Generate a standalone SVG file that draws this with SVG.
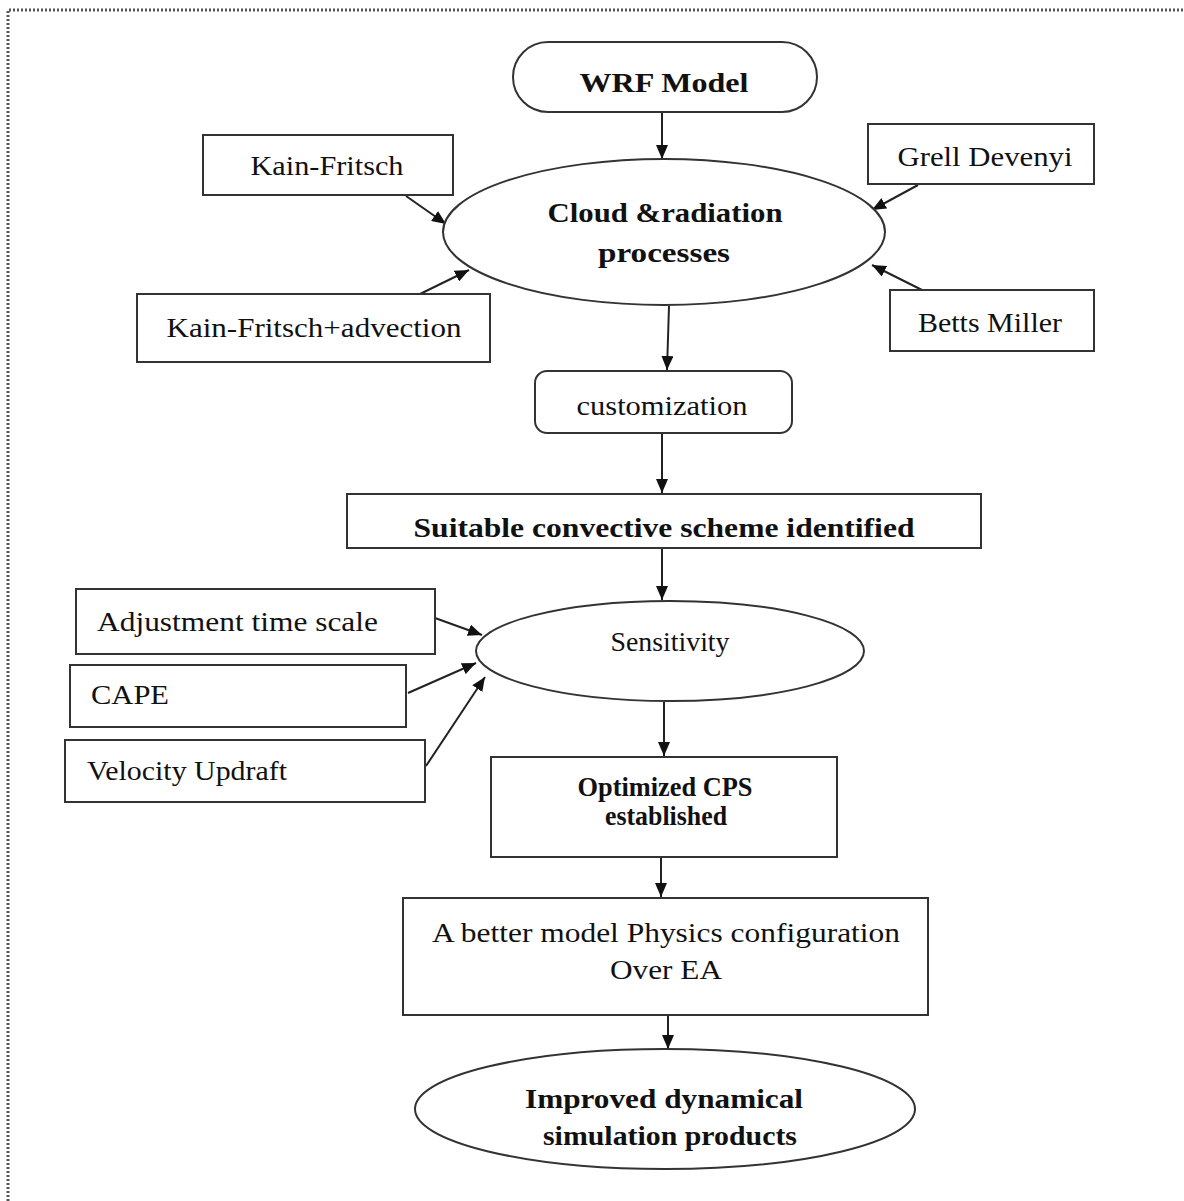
<svg xmlns="http://www.w3.org/2000/svg" width="1184" height="1201" viewBox="0 0 1184 1201">
<style>
.box{fill:#fff;stroke:#333;stroke-width:2}
.t{font-family:"Liberation Serif","Times New Roman",serif;font-size:28px;fill:#111;text-anchor:middle}
.b{font-weight:bold}
.ts{text-anchor:start}
.c{stroke:#222;stroke-width:2;fill:none;marker-end:url(#ah)}
.frame{stroke:#555;stroke-width:3;stroke-dasharray:2 2;fill:none}
</style>
<defs>
<marker id="ah" viewBox="0 0 14 12" refX="14" refY="6" markerWidth="14" markerHeight="12" markerUnits="userSpaceOnUse" orient="auto">
<path d="M0,0 L14,6 L0,12 Z" fill="#111"/>
</marker>
</defs>
<rect width="1184" height="1201" fill="#fff"/>
<path class="frame" d="M8,1201 V10 H1184"/>

<g id="connectors">
<line class="c" x1="662" y1="112" x2="662" y2="159"/>
<line class="c" x1="406" y1="196" x2="446" y2="224"/>
<line class="c" x1="418" y1="295" x2="469" y2="270"/>
<line class="c" x1="918" y1="185" x2="872" y2="210"/>
<line class="c" x1="922" y1="290" x2="872" y2="265"/>
<line class="c" x1="669" y1="306" x2="667" y2="370"/>
<line class="c" x1="662" y1="433" x2="662" y2="493"/>
<line class="c" x1="662" y1="548" x2="662" y2="600"/>
<line class="c" x1="435" y1="618" x2="482" y2="635"/>
<line class="c" x1="408" y1="693" x2="476" y2="663"/>
<line class="c" x1="426" y1="766" x2="485" y2="677"/>
<line class="c" x1="664" y1="702" x2="664" y2="756"/>
<line class="c" x1="661" y1="857" x2="661" y2="897"/>
<line class="c" x1="668" y1="1015" x2="668" y2="1049"/>
</g>

<g id="wrf">
<rect class="box" x="513" y="42" width="304" height="70" rx="35"/>
<text class="t b" x="664" y="92" font-size="29" textLength="169" lengthAdjust="spacingAndGlyphs">WRF Model</text>
</g>
<g id="cloud">
<ellipse class="box" cx="664" cy="232" rx="221" ry="73"/>
<text class="t b" x="665" y="222" textLength="235" lengthAdjust="spacingAndGlyphs">Cloud  &amp;radiation</text>
<text class="t b" x="664" y="262" textLength="132" lengthAdjust="spacingAndGlyphs">processes</text>
</g>
<g id="kf">
<rect class="box" x="203" y="135" width="250" height="60"/>
<text class="t" x="327" y="175" textLength="153" lengthAdjust="spacingAndGlyphs">Kain-Fritsch</text>
</g>
<g id="kfa">
<rect class="box" x="137" y="294" width="353" height="68"/>
<text class="t" x="314" y="337" textLength="295" lengthAdjust="spacingAndGlyphs">Kain-Fritsch+advection</text>
</g>
<g id="gd">
<rect class="box" x="868" y="124" width="226" height="60"/>
<text class="t" x="985" y="166" textLength="175" lengthAdjust="spacingAndGlyphs">Grell  Devenyi</text>
</g>
<g id="bm">
<rect class="box" x="890" y="290" width="204" height="61"/>
<text class="t" x="990" y="332" textLength="144" lengthAdjust="spacingAndGlyphs">Betts  Miller</text>
</g>
<g id="cust">
<rect class="box" x="535" y="371" width="257" height="62" rx="12"/>
<text class="t" x="662" y="415" textLength="171" lengthAdjust="spacingAndGlyphs">customization</text>
</g>
<g id="suit">
<rect class="box" x="347" y="494" width="634" height="54"/>
<text class="t b" x="664" y="537" font-size="27" textLength="501" lengthAdjust="spacingAndGlyphs">Suitable  convective scheme identified</text>
</g>
<g id="sens">
<ellipse class="box" cx="670" cy="651" rx="194" ry="50"/>
<text class="t" x="670" y="651" textLength="119" lengthAdjust="spacingAndGlyphs">Sensitivity</text>
</g>
<g id="adj">
<rect class="box" x="76" y="589" width="359" height="65"/>
<text class="t ts" x="97" y="631" textLength="281" lengthAdjust="spacingAndGlyphs">Adjustment  time  scale</text>
</g>
<g id="cape">
<rect class="box" x="70" y="665" width="336" height="62"/>
<text class="t ts" x="91" y="704" textLength="78" lengthAdjust="spacingAndGlyphs">CAPE</text>
</g>
<g id="vel">
<rect class="box" x="65" y="740" width="360" height="62"/>
<text class="t ts" x="87" y="780" textLength="200" lengthAdjust="spacingAndGlyphs">Velocity Updraft</text>
</g>
<g id="opt">
<rect class="box" x="491" y="757" width="346" height="100"/>
<text class="t b" x="665" y="796" font-size="22" textLength="175" lengthAdjust="spacingAndGlyphs">Optimized  CPS</text>
<text class="t b" x="666" y="825" font-size="22" textLength="122" lengthAdjust="spacingAndGlyphs">established</text>
</g>
<g id="better">
<rect class="box" x="403" y="898" width="525" height="117"/>
<text class="t" x="666" y="942" textLength="468" lengthAdjust="spacingAndGlyphs">A better model Physics  configuration</text>
<text class="t" x="666" y="979" textLength="112" lengthAdjust="spacingAndGlyphs">Over EA</text>
</g>
<g id="improved">
<ellipse class="box" cx="665" cy="1109" rx="250" ry="60"/>
<text class="t b" x="664" y="1108" textLength="278" lengthAdjust="spacingAndGlyphs">Improved  dynamical</text>
<text class="t b" x="670" y="1145" textLength="254" lengthAdjust="spacingAndGlyphs">simulation  products</text>
</g>
</svg>
